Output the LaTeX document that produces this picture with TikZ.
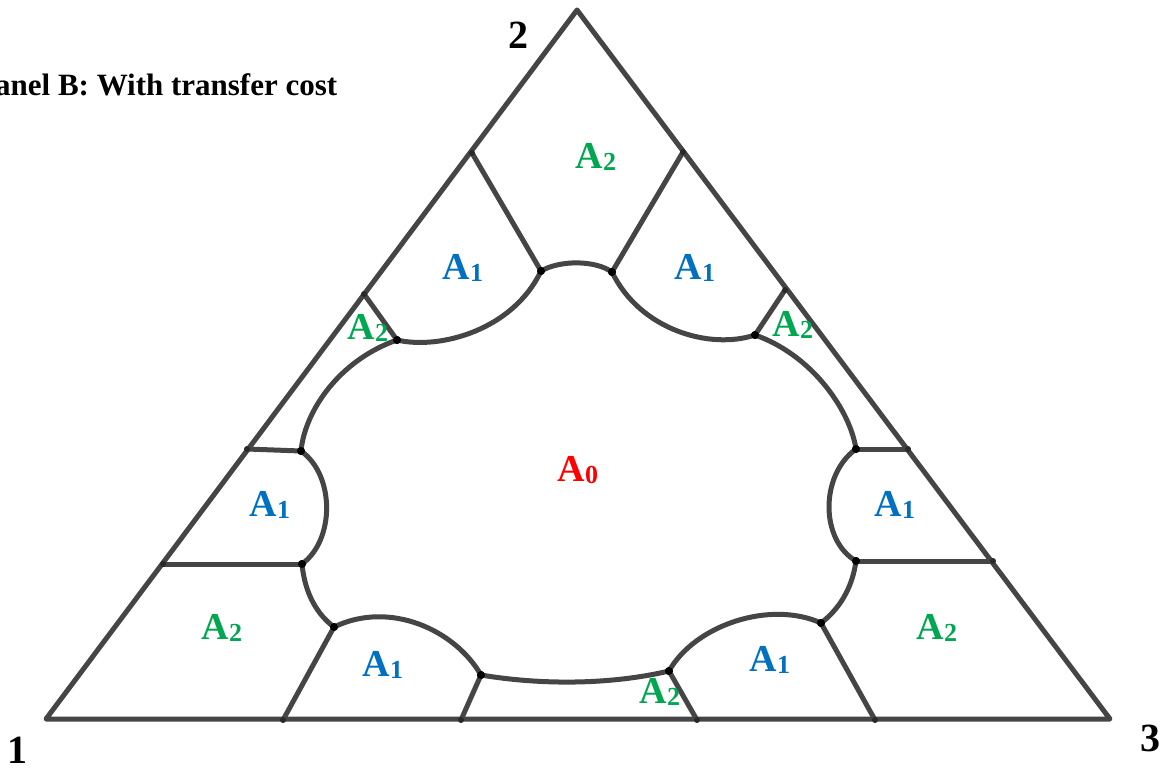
\documentclass[tikz,border=0pt]{standalone}
\usepackage{fontspec}
\setmainfont{Liberation Serif}
\definecolor{lgray}{HTML}{454545}
\definecolor{agreen}{HTML}{00A650}
\definecolor{ablue}{HTML}{0070C0}
\definecolor{ared}{HTML}{FF0000}
\newcommand{\alab}[1]{\fontsize{38}{40}\selectfont\bfseries A\raisebox{-2pt}{\fontsize{26}{26}\selectfont #1}}
\tikzset{
  edge/.style={draw=lgray,line width=5pt,line cap=round,line join=round},
  jdot/.style={circle,fill=black,inner sep=0pt,minimum size=8pt},
  lab/.style={inner sep=0pt},
  corner/.style={inner sep=0pt,font=\fontsize{40}{42}\selectfont\bfseries}
}
\begin{document}
\begin{tikzpicture}[x=1pt,y=-1pt]
\useasboundingbox (0,0) rectangle (1168,773);
% triangle vertices
\coordinate (v1) at (46,719);
\coordinate (v2) at (577,10);
\coordinate (v3) at (1110,719);
% boundary points
\coordinate (l1) at (472,153);
\coordinate (l2) at (364,294);
\coordinate (l3) at (247,449);
\coordinate (l4) at (163,564);
\coordinate (r1) at (683,152);
\coordinate (r2) at (785,290);
\coordinate (r3) at (908,449);
\coordinate (r4) at (993,561);
\coordinate (b1) at (283,720);
\coordinate (b2) at (461,720);
\coordinate (b3) at (697,720);
\coordinate (b4) at (875,720);
% inner junctions
\node[jdot] (p1) at (541,271) {};
\node[jdot] (p2) at (612,272) {};
\node[jdot] (p3) at (755,335) {};
\node[jdot] (p4) at (856,449) {};
\node[jdot] (p5) at (856,561) {};
\node[jdot] (p6) at (821,623) {};
\node[jdot] (p7) at (669,671) {};
\node[jdot] (p8) at (481,675) {};
\node[jdot] (p9) at (334,627) {};
\node[jdot] (p10) at (302,564) {};
\node[jdot] (p11) at (301,451) {};
\node[jdot] (p12) at (397,340) {};
% outer triangle
\draw[edge] (v1) -- (v2) -- (v3) -- cycle;
% spokes
\draw[edge] (l1) -- (p1.center);
\draw[edge] (r1) -- (p2.center);
\draw[edge] (l2) -- (p12.center);
\draw[edge] (r2) -- (p3.center);
\draw[edge] (l3) -- (p11.center);
\draw[edge] (r3) -- (p4.center);
\draw[edge] (l4) -- (p10.center);
\draw[edge] (r4) -- (p5.center);
\draw[edge] (b1) -- (p9.center);
\draw[edge] (b2) -- (p8.center);
\draw[edge] (b3) -- (p7.center);
\draw[edge] (b4) -- (p6.center);
% inner curves
\draw[edge] (p1.center) .. controls (560,260) and (595,260) .. (p2.center);
\draw[edge] (p2.center) .. controls (640,330) and (710,350) .. (p3.center);
\draw[edge] (p1.center) .. controls (513,330) and (440,350) .. (p12.center);
\draw[edge] (p12.center) .. controls (340,360) and (305,410) .. (p11.center);
\draw[edge] (p3.center) .. controls (812,355) and (850,410) .. (p4.center);
\draw[edge] (p11.center) .. controls (335,475) and (335,540) .. (p10.center);
\draw[edge] (p4.center) .. controls (820,475) and (820,540) .. (p5.center);
\draw[edge] (p10.center) .. controls (305,595) and (318,615) .. (p9.center);
\draw[edge] (p5.center) .. controls (852,590) and (838,610) .. (p6.center);
\draw[edge] (p9.center) .. controls (390,600) and (455,630) .. (p8.center);
\draw[edge] (p7.center) .. controls (695,625) and (770,600) .. (p6.center);
\draw[edge] (p8.center) .. controls (540,685) and (610,685) .. (p7.center);
% redraw dots on top
\foreach \p in {p1,p2,p3,p4,p5,p6,p7,p8,p9,p10,p11,p12}{\fill (\p) circle (4pt);}
\foreach \c in {l1,l2,l3,l4,r1,r2,r3,r4,b1,b2,b3,b4}{\fill[lgray!60!black] (\c) circle (3pt);}
% labels
\node[lab,text=agreen] (t1) at (596,157) {\alab{2}};
\node[lab,text=ablue] (t2) at (463,268) {\alab{1}};
\node[lab,text=ablue] (t3) at (695,268) {\alab{1}};
\node[lab,text=agreen] (t4) at (368,328) {\alab{2}};
\node[lab,text=agreen] (t5) at (793,325) {\alab{2}};
\node[lab,text=ared] (t6) at (578,470) {\alab{0}};
\node[lab,text=ablue] (t7) at (270,505) {\alab{1}};
\node[lab,text=ablue] (t8) at (895,505) {\alab{1}};
\node[lab,text=agreen] (t9) at (222,628) {\alab{2}};
\node[lab,text=agreen] (t10) at (937,628) {\alab{2}};
\node[lab,text=ablue] (t11) at (383,665) {\alab{1}};
\node[lab,text=ablue] (t12) at (770,660) {\alab{1}};
\node[lab,text=agreen] (t13) at (660,692) {\alab{2}};
% corner numbers
\node[corner] (c1) at (18,750) {1};
\node[corner] (c2) at (518,35) {2};
\node[corner] (c3) at (1150,738) {3};
% title
\node[inner sep=0pt,anchor=base west,font=\fontsize{31}{33}\selectfont\bfseries] (title) at (-24,96) {Panel B: With transfer cost};
\end{tikzpicture}
\end{document}
